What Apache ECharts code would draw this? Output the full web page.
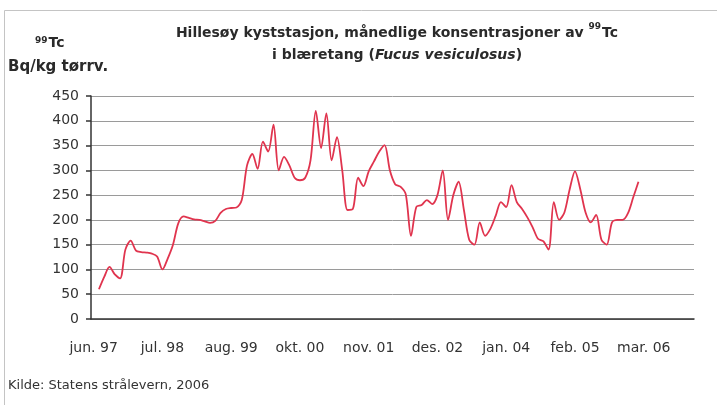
<!DOCTYPE html>
<html>
<head>
<meta charset="utf-8">
<script src="https://cdn.jsdelivr.net/npm/echarts@6/dist/echarts.min.js"></script>
<style>
  html, body { margin: 0; padding: 0; background: #ffffff; }
  #chart { width: 717px; height: 405px; }
</style>
</head>
<body>
<div id="chart"></div>
<script>
// Monthly sampling months (one month without a sample in summer 2000)
const months = [
  'jun. 97','jul. 97','aug. 97','sep. 97','okt. 97','nov. 97','des. 97',
  'jan. 98','feb. 98','mar. 98','apr. 98','mai 98','jun. 98','jul. 98','aug. 98','sep. 98','okt. 98','nov. 98','des. 98',
  'jan. 99','feb. 99','mar. 99','apr. 99','mai 99','jun. 99','jul. 99','aug. 99','sep. 99','okt. 99','nov. 99','des. 99',
  'jan. 00','feb. 00','mar. 00','apr. 00','mai 00','jun. 00','aug. 00','sep. 00','okt. 00','nov. 00','des. 00',
  'jan. 01','feb. 01','mar. 01','apr. 01','mai 01','jun. 01','jul. 01','aug. 01','sep. 01','okt. 01','nov. 01','des. 01',
  'jan. 02','feb. 02','mar. 02','apr. 02','mai 02','jun. 02','jul. 02','aug. 02','sep. 02','okt. 02','nov. 02','des. 02',
  'jan. 03','feb. 03','mar. 03','apr. 03','mai 03','jun. 03','jul. 03','aug. 03','sep. 03','okt. 03','nov. 03','des. 03',
  'jan. 04','feb. 04','mar. 04','apr. 04','mai 04','jun. 04','jul. 04','aug. 04','sep. 04','okt. 04','nov. 04','des. 04',
  'jan. 05','feb. 05','mar. 05','apr. 05','mai 05','jun. 05','jul. 05','aug. 05','sep. 05','okt. 05','nov. 05','des. 05',
  'jan. 06','feb. 06','mar. 06','apr. 06','mai 06','jun. 06','jul. 06','aug. 06','sep. 06','okt. 06','nov. 06','des. 06'
];

// 99Tc in Fucus vesiculosus, Bq/kg dry weight (null = no sample)
const tc99 = [
  null, 60, 85, 105, 90, 82, 140, 158, 138, 135,
  134, 132, 126, 100, 122, 150, 193, 207, 204, 201,
  200, 197, 194, 198, 214, 222, 224, 225, 240, 310,
  333, 303, 358, 338, 392, 300, 327, 310, 285, 280,
  285, 320, 420, 345, 415, 320, 367, 300, 220, 222,
  285, 268, 298, 318, 338, 351, 300, 272, 267, 252,
  168, 226, 230, 240, 232, 250, 300, 200, 250, 277,
  220, 160, 150, 195, 168, 182, 208, 236, 226, 270,
  236, 222, 205, 185, 162, 157, 140, 236, 200, 215,
  262, 298, 262, 215, 195, 210, 160, 150, 195, 200,
  200, 213, 245, 277, null, null, null, null, null, null,
  null, null, null, null
];

const yTicks = { min: 0, max: 450, step: 50 };
const labelEvery = 13;

const FONT = '"DejaVu Sans", "Liberation Sans", Arial, sans-serif';

const chart = echarts.init(document.getElementById('chart'), null, { renderer: 'canvas' });

chart.setOption({
  backgroundColor: '#ffffff',
  animation: false,
  title: {
    text: 'Hillesøy kyststasjon, månedlige konsentrasjoner av {sup|99}Tc\ni blæretang ({it|Fucus vesiculosus})',
    left: 392,
    top: 17,
    textAlign: 'center',
    textStyle: {
      fontFamily: FONT,
      fontSize: 14,
      fontWeight: 'bold',
      color: '#2a2a2a',
      lineHeight: 22,
      rich: {
        sup: { fontFamily: FONT, fontSize: 9, fontWeight: 'bold', color: '#2a2a2a', verticalAlign: 'top', lineHeight: 14, padding: [0, 1, 6, 0] },
        it: { fontFamily: FONT, fontSize: 14, fontWeight: 'bold', fontStyle: 'italic', color: '#2a2a2a', lineHeight: 22 }
      }
    }
  },
  grid: { left: 91, right: 23, top: 96, bottom: 86, containLabel: false },
  xAxis: {
    type: 'category',
    data: months,
    boundaryGap: true,
    axisLine: { lineStyle: { color: '#333', width: 1.5 } },
    axisTick: { interval: labelEvery - 1, length: 5, lineStyle: { color: '#333', width: 1.5 } },
    axisLabel: {
      interval: labelEvery - 1,
      fontFamily: FONT,
      fontSize: 14,
      color: '#333',
      margin: 22
    },
    splitLine: { show: false }
  },
  yAxis: {
    type: 'value',
    min: yTicks.min,
    max: yTicks.max,
    interval: yTicks.step,
    axisLine: { show: true, lineStyle: { color: '#333', width: 1.5 } },
    axisTick: { show: true, length: 5, lineStyle: { color: '#333', width: 1.5 } },
    axisLabel: { fontFamily: FONT, fontSize: 14, color: '#333', margin: 12 },
    splitLine: { lineStyle: { color: '#9a9a9a', width: 1 } }
  },
  series: [{
    type: 'line',
    data: tc99,
    smooth: 0.3,
    showSymbol: false,
    connectNulls: false,
    lineStyle: { color: '#e0344e', width: 1.8 },
    itemStyle: { color: '#e0344e' }
  }],
  graphic: [
    {
      type: 'rect',
      shape: { x: 4.5, y: 10.5, width: 730, height: 410 },
      style: { fill: null, stroke: '#c4c4c4', lineWidth: 1 },
      silent: true
    },
    {
      type: 'text',
      left: 35,
      top: 36,
      style: {
        text: '{sup|99}Tc',
        fontFamily: FONT,
        fontSize: 14,
        fontWeight: 'bold',
        fill: '#2a2a2a',
        rich: {
          sup: { fontFamily: FONT, fontSize: 9, fontWeight: 'bold', fill: '#2a2a2a', verticalAlign: 'top', padding: [0, 1, 6, 0] }
        }
      }
    },
    {
      type: 'text',
      left: 8,
      top: 60,
      style: {
        text: 'Bq/kg tørrv.',
        fontFamily: FONT,
        fontSize: 15,
        fontWeight: 'bold',
        fill: '#2a2a2a'
      }
    },
    {
      type: 'text',
      left: 8,
      top: 379,
      style: {
        text: 'Kilde: Statens strålevern, 2006',
        fontFamily: FONT,
        fontSize: 13,
        fill: '#333'
      }
    }
  ]
});
</script>
</body>
</html>
